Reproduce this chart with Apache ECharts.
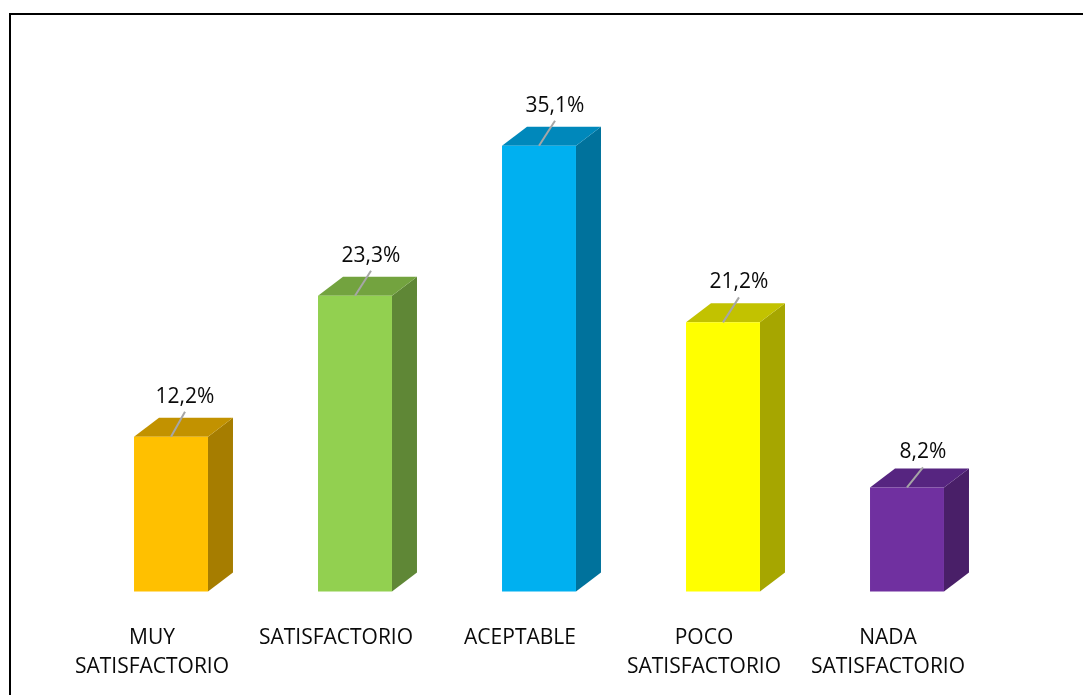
<!DOCTYPE html>
<html>
<head>
<meta charset="utf-8">
<style>html,body{margin:0;padding:0;background:#fff;overflow:hidden}#c{width:1083px;height:695px}</style>
<script src="https://cdn.jsdelivr.net/npm/echarts@6/dist/echarts.min.js"></script>
</head>
<body>
<div id="c"></div>
<script>
const categories = ['MUY\nSATISFACTORIO', 'SATISFACTORIO', 'ACEPTABLE', 'POCO\nSATISFACTORIO', 'NADA\nSATISFACTORIO'];
const values = [12.2, 23.3, 35.1, 21.2, 8.2];
const labels = ['12,2%', '23,3%', '35,1%', '21,2%', '8,2%'];
const frontColors = ['#FFC000', '#92D050', '#00B0F0', '#FFFF00', '#7030A0'];
const topColors = ['#C29200', '#73A33F', '#0088BB', '#C2C200', '#562580'];
const sideColors = ['#A67D00', '#5F8736', '#00729C', '#A6A600', '#491F68'];

const chart = echarts.init(document.getElementById('c'), null, {renderer: 'canvas'});
const DX = 25, DY = 19;
chart.setOption({
  animation: false,
  backgroundColor: '#fff',
  graphic: [
    {type: 'polyline', silent: true, z: 10, shape: {points: [[10, 695], [10, 14], [1083, 14]]},
     style: {stroke: '#000', fill: null, lineWidth: 2}}
  ],
  grid: {left: 79, top: 83.6, width: 920, height: 508},
  xAxis: {
    type: 'category', data: categories,
    axisLine: {show: false}, axisTick: {show: false}, splitLine: {show: false},
    axisLabel: {interval: 0, margin: 32, color: '#0a0a0a', fontFamily: 'Open Sans', fontSize: 21,
      lineHeight: 29, align: 'center', verticalAlign: 'top', padding: [0, 38, 0, 0]}
  },
  yAxis: {type: 'value', min: 0, max: 40, show: false, splitLine: {show: false}},
  series: [{
    type: 'custom',
    clip: false,
    data: values,
    encode: {x: 0, y: 1},
    renderItem(params, api) {
      const i = params.dataIndex;
      const p = api.coord([i, api.value(1)]);
      const b = api.coord([i, 0]);
      const w = api.size([1, 0])[0] * 0.402;
      const l = p[0] - w / 2, r = p[0] + w / 2, t = p[1], y0 = b[1];
      const leadY = api.value(1) < 10 ? 20 : 25;
      const leadX = i === 0 ? 14 : 16;
      return {type: 'group', children: [
        {type: 'polygon', shape: {points: [[r, t], [r + DX, t - DY], [r + DX, y0 - DY], [r, y0]]}, style: {fill: sideColors[i]}},
        {type: 'polygon', shape: {points: [[l, t], [l + DX, t - DY], [r + DX, t - DY], [r, t]]}, style: {fill: topColors[i]}},
        {type: 'rect', shape: {x: l, y: t, width: w, height: y0 - t}, style: {fill: frontColors[i]}},
        {type: 'line', shape: {x1: p[0], y1: t, x2: p[0] + leadX, y2: t - leadY}, style: {stroke: '#A6A6A6', lineWidth: 2}},
        {type: 'text', x: p[0] + leadX, y: t - leadY - 15, style: {text: labels[i], fill: '#0a0a0a', font: '21px "Open Sans"', align: 'center', verticalAlign: 'middle'}}
      ]};
    }
  }]
});
</script>
</body>
</html>
